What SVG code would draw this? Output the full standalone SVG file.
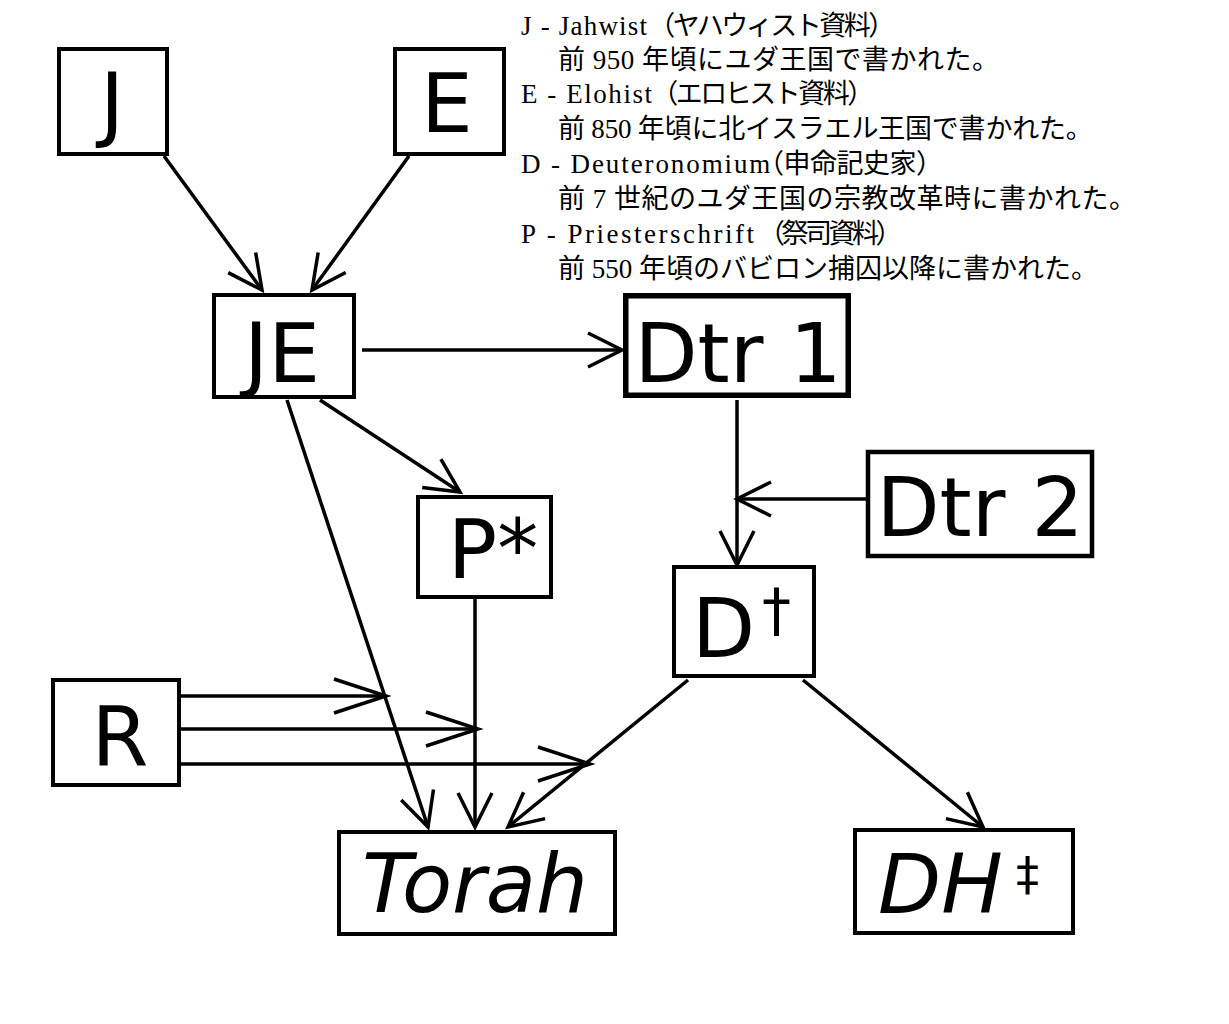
<svg xmlns="http://www.w3.org/2000/svg" width="1229" height="1024" viewBox="0 0 1229 1024">
<style>
.box{fill:#fff;stroke:#000;stroke-width:4}
.lbl{font-family:"DejaVu Sans",sans-serif;font-size:82px;fill:#000}
.it{font-style:italic}
.con{stroke:#000;stroke-width:3.5;fill:none}
.note{font-family:"Liberation Serif","Noto Sans CJK JP",serif;font-size:27px;fill:#000}
</style>
<defs>
<marker id="ah" markerUnits="userSpaceOnUse" orient="auto" overflow="visible" refX="0" refY="0">
<path d="M-34,-17 L0,0 L-34,17" fill="none" stroke="#000" stroke-width="3.5"/>
</marker>
<marker id="ahl" markerUnits="userSpaceOnUse" orient="auto" overflow="visible" refX="0" refY="0">
<path d="M-52,-17 L0,0 L-52,17" fill="none" stroke="#000" stroke-width="3.5"/>
</marker>
</defs>
<rect width="1229" height="1024" fill="#fff"/>

<g id="connectors">
<line class="con" x1="164" y1="156" x2="262" y2="290" marker-end="url(#ah)"/>
<line class="con" x1="409" y1="156" x2="312" y2="290" marker-end="url(#ah)"/>
<line class="con" x1="362" y1="350" x2="622" y2="350" marker-end="url(#ah)"/>
<line class="con" x1="320" y1="400" x2="460" y2="492" marker-end="url(#ah)"/>
<line class="con" x1="287" y1="400" x2="428" y2="827" marker-end="url(#ah)"/>
<line class="con" x1="737" y1="400" x2="737" y2="565" marker-end="url(#ah)"/>
<line class="con" x1="866" y1="499" x2="737" y2="499" marker-end="url(#ah)"/>
<line class="con" x1="475" y1="599" x2="475" y2="827" marker-end="url(#ah)"/>
<line class="con" x1="688" y1="680" x2="508" y2="827" marker-end="url(#ah)"/>
<line class="con" x1="803" y1="680" x2="983" y2="827" marker-end="url(#ah)"/>
<line class="con" x1="181" y1="696" x2="386" y2="696" marker-end="url(#ahl)"/>
<line class="con" x1="181" y1="729" x2="478" y2="729" marker-end="url(#ahl)"/>
<line class="con" x1="181" y1="764" x2="590" y2="764" marker-end="url(#ahl)"/>
</g>

<g id="node-J"><rect class="box" x="59" y="49" width="108" height="105"/><text class="lbl" x="112" y="132" text-anchor="middle">J</text></g>
<g id="node-E"><rect class="box" x="395" y="49" width="109" height="105"/><text class="lbl" x="447" y="132" text-anchor="middle">E</text></g>
<g id="node-JE"><rect class="box" x="214" y="295" width="140" height="102"/><text class="lbl" x="282" y="382" text-anchor="middle">JE</text></g>
<g id="node-Dtr1"><rect class="box" x="625.75" y="295.75" width="222.5" height="99.5" style="stroke-width:5.5"/><text class="lbl" x="738" y="382" text-anchor="middle">Dtr 1</text></g>
<g id="node-Dtr2"><rect class="box" x="868" y="452" width="224" height="104" style="stroke-width:4.5"/><text class="lbl" x="980" y="536" text-anchor="middle">Dtr 2</text></g>
<g id="node-P"><rect class="box" x="418" y="497" width="133" height="100"/><text class="lbl" x="493" y="578" text-anchor="middle">P*</text></g>
<g id="node-D"><rect class="box" x="674" y="567" width="140" height="109"/><text class="lbl" x="692" y="657">D<tspan x="762" y="630" font-size="58">†</tspan></text></g>
<g id="node-R"><rect class="box" x="53" y="680" width="126" height="105"/><text class="lbl" x="120" y="765" text-anchor="middle">R</text></g>
<g id="node-Torah"><rect class="box" x="339" y="832" width="276" height="102"/><text class="lbl it" x="475" y="912" text-anchor="middle">Torah</text></g>
<g id="node-DH"><rect class="box" x="855" y="830" width="218" height="103"/><text class="lbl" x="878" y="913"><tspan class="it">DH</tspan><tspan x="1016" y="890" font-size="46">‡</tspan></text></g>

<g id="notes">
<text class="note" y="35"><tspan x="521" letter-spacing="1.2">J - Jahwist</tspan><tspan x="644" letter-spacing="-2.5"> （ヤハウィスト資料）</tspan></text>
<text class="note" x="558" y="69" letter-spacing="0.5">前 950 年頃にユダ王国で書かれた。</text>
<text class="note" y="103"><tspan x="521" letter-spacing="1.55">E - Elohist</tspan><tspan x="647" letter-spacing="-2.5"> （エロヒスト資料）</tspan></text>
<text class="note" x="558" y="138" letter-spacing="-0.2">前 850 年頃に北イスラエル王国で書かれた。</text>
<text class="note" y="173"><tspan x="521" letter-spacing="1.9">D - Deuteronomium</tspan><tspan x="757" letter-spacing="-0.5">（申命記史家）</tspan></text>
<text class="note" x="558" y="208" letter-spacing="0.5">前 7 世紀のユダ王国の宗教改革時に書かれた。</text>
<text class="note" y="243"><tspan x="521" letter-spacing="2.5">P - Priesterschrift</tspan><tspan x="758" letter-spacing="-3.5">（祭司資料）</tspan></text>
<text class="note" x="558" y="278">前 550 年頃のバビロン捕囚以降に書かれた。</text>
</g>
</svg>
